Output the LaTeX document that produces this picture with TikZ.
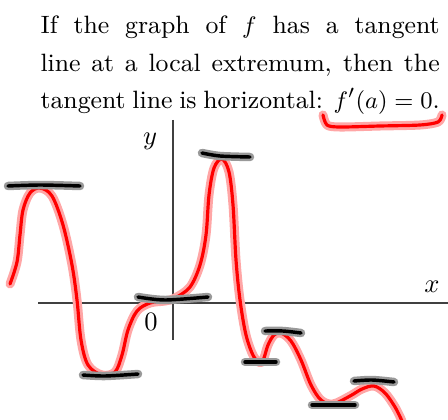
\documentclass[tikz,border=0pt]{standalone}
\usepackage{amssymb}
\colorlet{penred}{red}
\colorlet{penhalo}{red!35}
\colorlet{inkaxis}{black!75}
\tikzset{
  redpen/.style={penred, line width=1.2pt, line cap=round, line join=round},
  redhalo/.style={penhalo, line width=3.4pt, line cap=round, line join=round},
  tangentpen/.style={black, line width=1.3pt, line cap=round,
    preaction={draw, black!40, line width=3.2pt, line cap=round}},
  axisline/.style={inkaxis, line width=0.45pt},
}

\begin{document}
\begin{tikzpicture}[x=0.377pt, y=-0.377pt]
  \useasboundingbox (0,0) rectangle (448,419);
  % statement
  \node[anchor=north west, inner sep=0pt, text width=150.5pt, align=justify,
        font=\fontsize{9.45}{14.1}\selectfont] (stmt) at (40,15.5)
    {\parfillskip=0pt\hfuzz=3pt If the graph of $f$ has a tangent\linebreak line at a local extremum, then the\linebreak tangent line is horizontal: \mbox{$f'(a)=0$.}};
  \draw[redpen, preaction={draw, redhalo}] plot[smooth, tension=0.5] coordinates
    {(323,115) (327,125) (340,127) (380,126) (420,125) (438,122) (442,115)};
  % axes
  \draw[axisline] (173,120) -- (173,340);
  \draw[axisline] (38,303) -- (448,303);
  \node (ylab) at (150,141) {$y$};
  \node (xlab) at (432,287) {$x$};
  \node (origin) at (151,322) {$0$};
  % graph of f
  \draw[redpen, preaction={draw, redhalo}] plot[smooth, tension=0.55] coordinates
    {(10,284) (17,262) (20,235) (23,210) (30,193) (40,188) (52,196) (63,225)
     (72,265) (77,300) (81,340) (88,365) (102,375) (115,372) (122,355) (128,330)
     (137,311) (150,303) (165,301) (175,298) (190,287) (200,265) (206,235)
     (209,195) (214,168) (222,159) (229,172) (233,205) (236,260) (240,300)
     (246,335) (254,357) (262,362) (268,345) (274,335) (281,333) (291,341)
     (301,360) (311,385) (321,400) (333,404) (350,396) (362,389) (374,386)
     (385,393) (395,407) (402,421)};
  % horizontal tangents
  \draw[tangentpen] plot[smooth] coordinates {(8,186) (40,185) (80,186)};
  \draw[tangentpen] plot[smooth] coordinates {(202,153) (220,156) (250,157)};
  \draw[tangentpen] plot[smooth] coordinates {(138,297) (165,300) (208,297)};
  \draw[tangentpen] plot[smooth] coordinates {(83,375) (105,376) (138,374)};
  \draw[tangentpen] (245,362) -- (276,362);
  \draw[tangentpen] plot[smooth] coordinates {(265,331) (283,331) (301,333)};
  \draw[tangentpen] (312,405) -- (355,405);
  \draw[tangentpen] plot[smooth] coordinates {(354,381) (372,380) (394,382)};
\end{tikzpicture}
\end{document}
